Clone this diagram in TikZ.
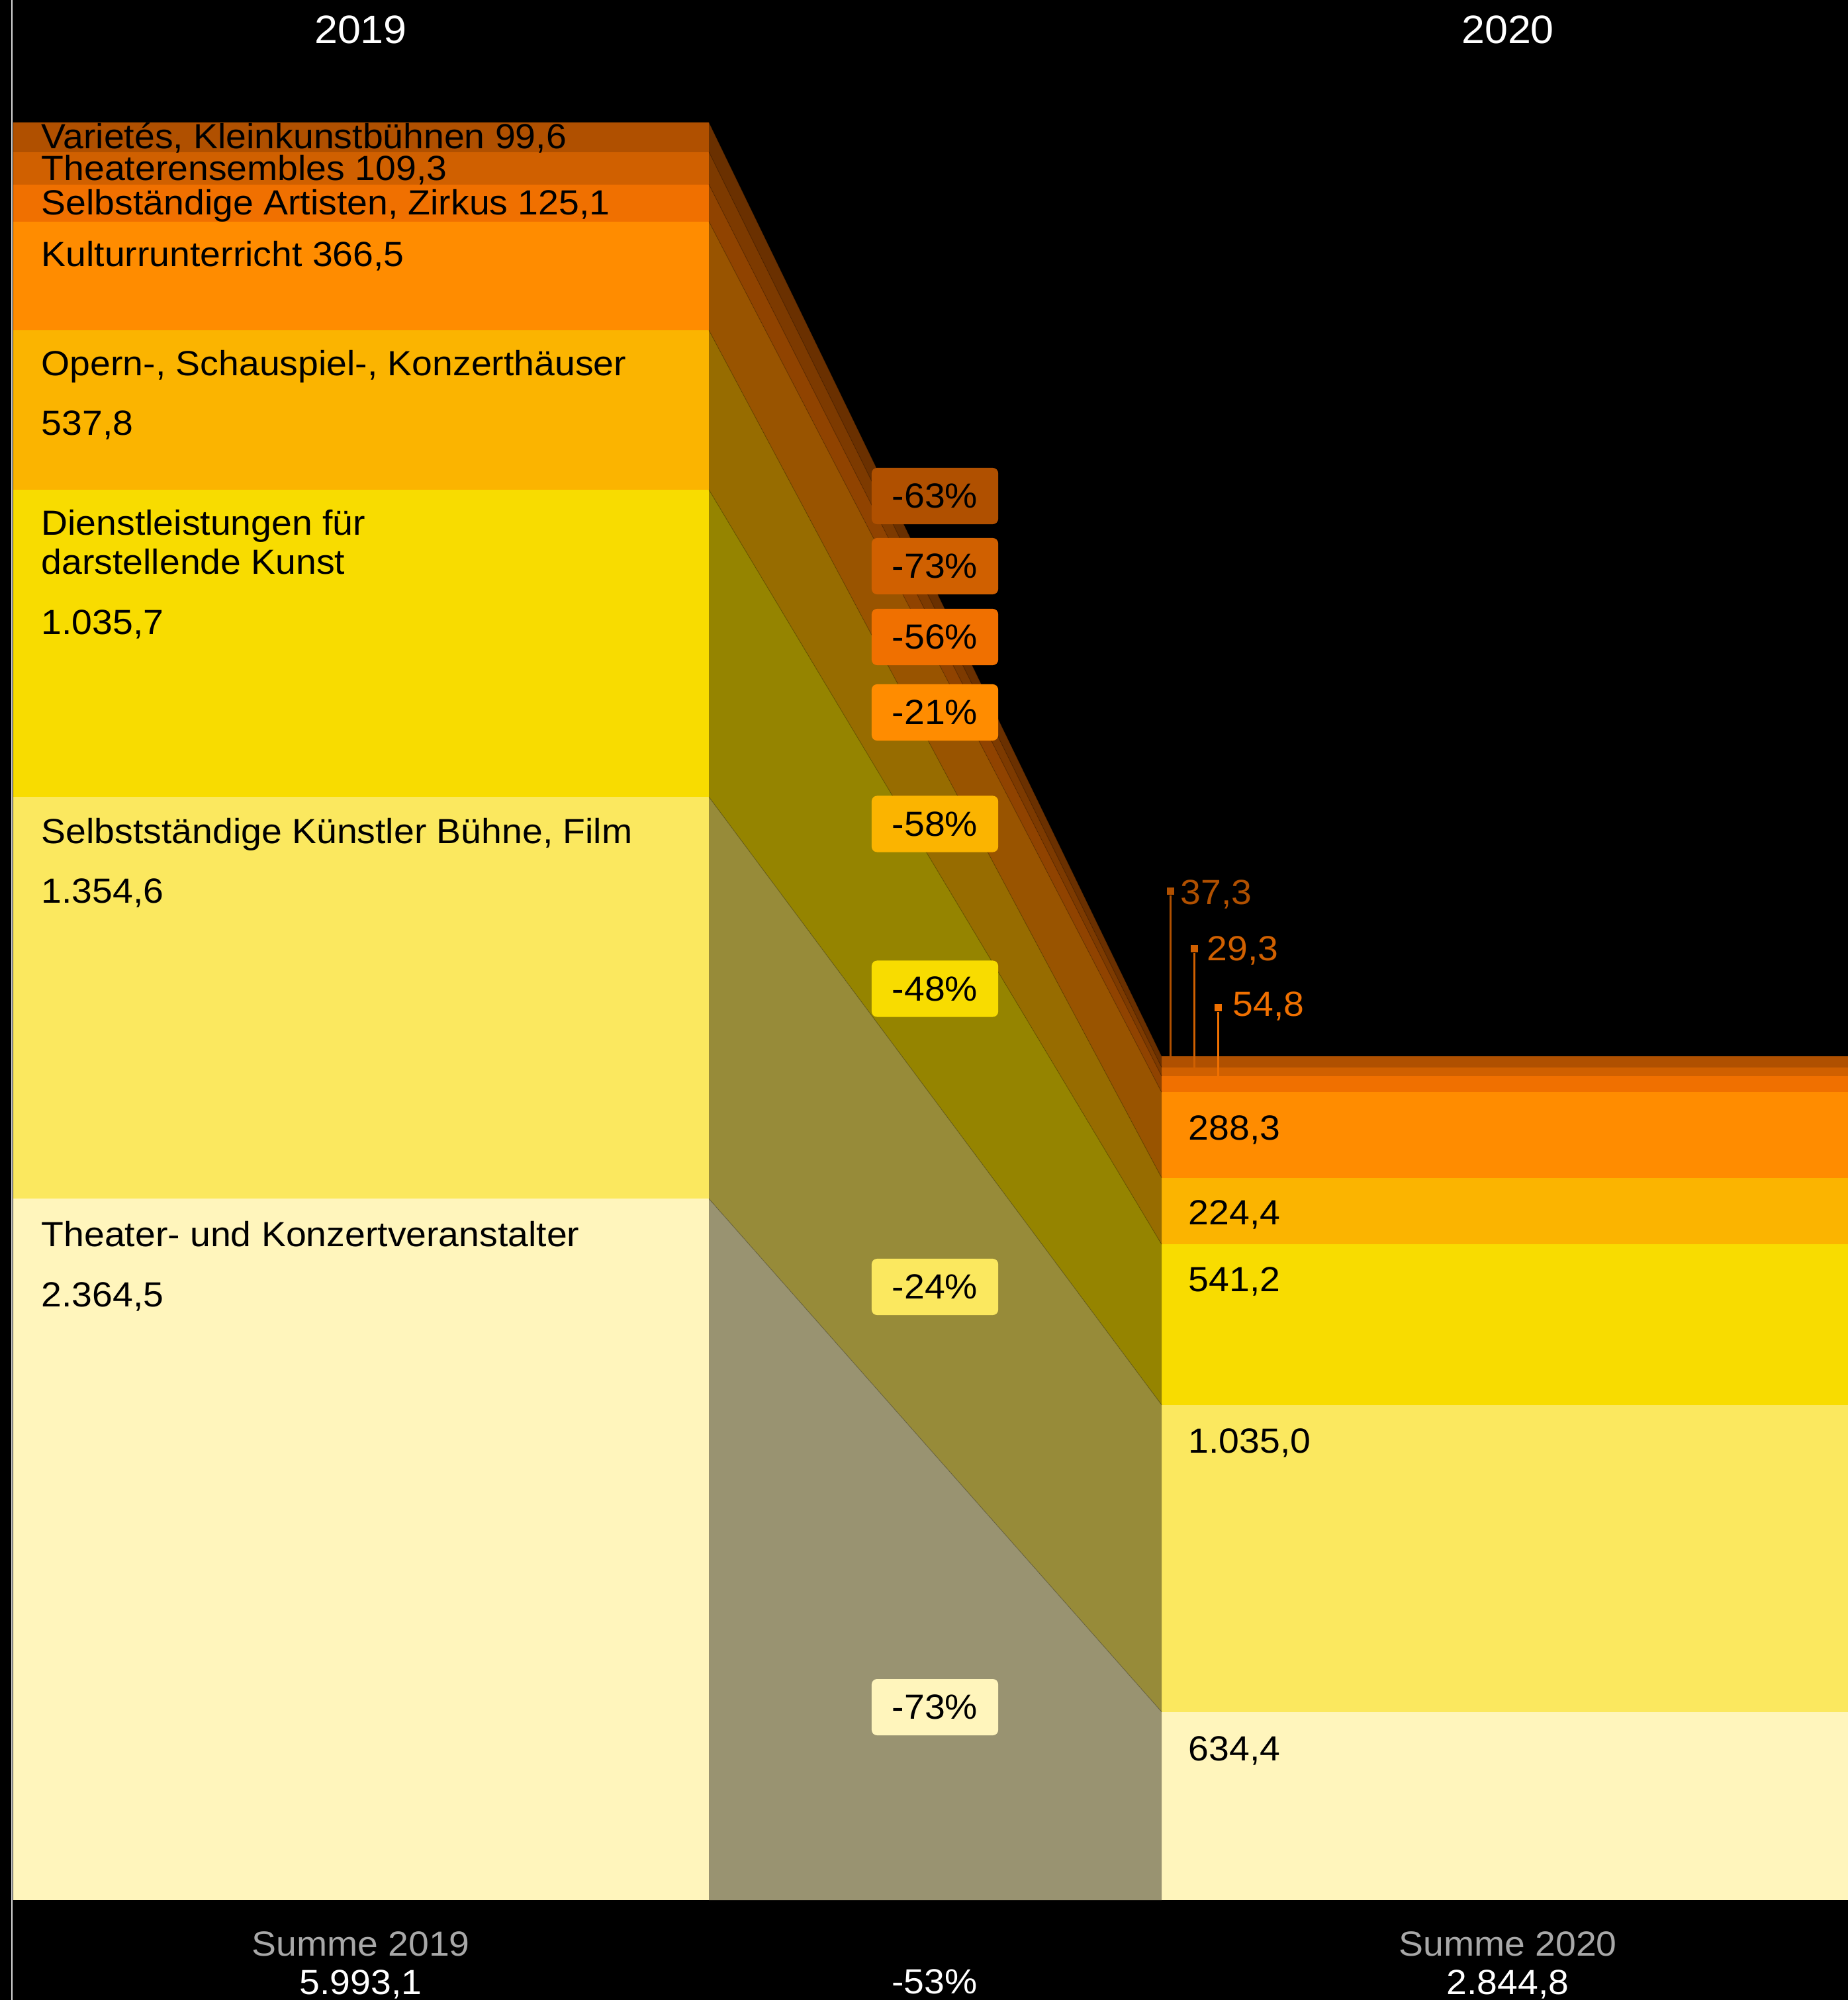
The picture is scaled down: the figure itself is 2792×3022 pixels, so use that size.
\documentclass[tikz,border=0pt]{standalone}
\usepackage{fontspec}
\setmainfont{Liberation Sans}[FakeStretch=1.05]
\usetikzlibrary{positioning,calc}

\begin{document}
\begin{tikzpicture}[x=0.01cm, y=-0.01cm, font=\fontsize{15}{18}\selectfont,
    etichetta/.style={anchor=base west, inner sep=0pt, text=black},
    anno/.style={anchor=base, inner sep=0pt, text=white, font=\fontsize{17}{20}\selectfont},
    somma/.style={anchor=base, inner sep=0pt, text=white!66!black},
    totale/.style={anchor=base, inner sep=0pt, text=white},
    perc/.style={rectangle, rounded corners=2.3pt, minimum width=1.91cm, minimum height=0.85cm, inner sep=0pt, text=black},
    puntino/.style={rectangle, minimum size=0.11cm, inner sep=0pt},
    gambo/.style={line width=0.03cm}]
    % Colori dei settori
    \definecolor{sVar}{RGB}{176,80,0}
    \definecolor{sEns}{RGB}{208,96,0}
    \definecolor{sArt}{RGB}{240,112,0}
    \definecolor{sKul}{RGB}{255,140,0}
    \definecolor{sOpe}{RGB}{251,180,0}
    \definecolor{sDie}{RGB}{248,220,0}
    \definecolor{sKue}{RGB}{251,232,95}
    \definecolor{sVer}{RGB}{255,245,188}

    % Sfondo
    \fill[black] (0,0) rectangle (2792,3022);
    \useasboundingbox (0,0) rectangle (2792,3022);
    \draw[white!85!black, line width=0.02cm] (18,0) -- (18,3022);

    % Barre 2019 / 2020 e fasce di collegamento
    \foreach \col/\ya/\yb/\za/\zb in {sVar/185/229.6/1596/1612.7, sEns/229.6/278.6/1612.7/1625.9,
        sArt/278.6/334.7/1625.9/1650.4, sKul/334.7/499/1650.4/1779.6, sOpe/499/740/1779.6/1880.2,
        sDie/740/1204.2/1880.2/2122.8, sKue/1204.2/1811.3/2122.8/2586.6, sVer/1811.3/2871/2586.6/2871} {
        \fill[\col] (20,\ya) rectangle (1071,\yb);
        \fill[\col] (1755,\za) rectangle (2792,\zb);
        \fill[\col!60!black] (1071,\ya) -- (1071,\yb) -- (1755,\zb) -- (1755,\za) -- cycle;
        \draw[black, opacity=0.2, line width=0.3pt] (1071,\ya) -- (1755,\za);
    }

    % Anni
    \node[anno] (a19) at (545,66) {2019};
    \node[anno] (a20) at (2278,66) {2020};

    % Etichette 2019
    \node[etichetta] (l1) at (62,225) {Varietés, Kleinkunstbühnen 99,6};
    \node[etichetta] (l2) at (62,273) {Theaterensembles 109,3};
    \node[etichetta] (l3) at (62,325) {Selbständige Artisten, Zirkus 125,1};
    \node[etichetta] (l4) at (62,403) {Kulturrunterricht 366,5};
    \node[etichetta] (l5) at (62,568) {Opern-, Schauspiel-, Konzerthäuser};
    \node[etichetta] (l5v) at (62,658) {537,8};
    \node[etichetta] (l6) at (62,808) {Dienstleistungen für};
    \node[etichetta] (l6b) at (62,867) {darstellende Kunst};
    \node[etichetta] (l6v) at (62,958) {1.035,7};
    \node[etichetta] (l7) at (62,1274) {Selbstständige Künstler Bühne, Film};
    \node[etichetta] (l7v) at (62,1364) {1.354,6};
    \node[etichetta] (l8) at (62,1883) {Theater- und Konzertveranstalter};
    \node[etichetta] (l8v) at (62,1974) {2.364,5};

    % Etichette 2020
    \node[etichetta] (r4) at (1795,1722) {288,3};
    \node[etichetta] (r5) at (1795,1850) {224,4};
    \node[etichetta] (r6) at (1795,1951) {541,2};
    \node[etichetta] (r7) at (1795,2195) {1.035,0};
    \node[etichetta] (r8) at (1795,2660) {634,4};

    % Valori piccoli con segnalino
    \node[puntino, fill=sVar] (m1) at (1768,1346.5) {};
    \coordinate (e1) at (1768,1596);
    \draw[gambo, sVar] (m1) -- (e1);
    \node[etichetta, text=sVar] (r1) at (1783,1366) {37,3};
    \node[puntino, fill=sEns] (m2) at (1804,1433.5) {};
    \coordinate (e2) at (1804,1626);
    \draw[gambo, sEns] (m2) -- (e2);
    \node[etichetta, text=sEns] (r2) at (1823,1451) {29,3};
    \node[puntino, fill=sArt] (m3) at (1840,1522.5) {};
    \coordinate (e3) at (1840,1626);
    \draw[gambo, sArt] (m3) -- (e3);
    \node[etichetta, text=sArt] (r3) at (1862,1535) {54,8};

    % Variazioni percentuali
    \foreach \col/\y/\txt [count=\i] in {sVar/749.5/-63\%, sEns/855.5/-73\%, sArt/962.5/-56\%,
        sKul/1076.5/-21\%, sOpe/1245/-58\%, sDie/1494/-48\%, sKue/1944.5/-24\%, sVer/2579.5/-73\%}
        \node[perc, fill=\col] (p\i) at (1412.5,\y) {\txt};

    % Somme
    \node[somma] (s19) at (545,2955) {Summe 2019};
    \node[totale] (t19) at (545,3013) {5.993,1};
    \node[totale] (t53) at (1412,3012) {-53\%};
    \node[somma] (s20) at (2278,2955) {Summe 2020};
    \node[totale] (t20) at (2278,3013) {2.844,8};
\end{tikzpicture}
\end{document}
